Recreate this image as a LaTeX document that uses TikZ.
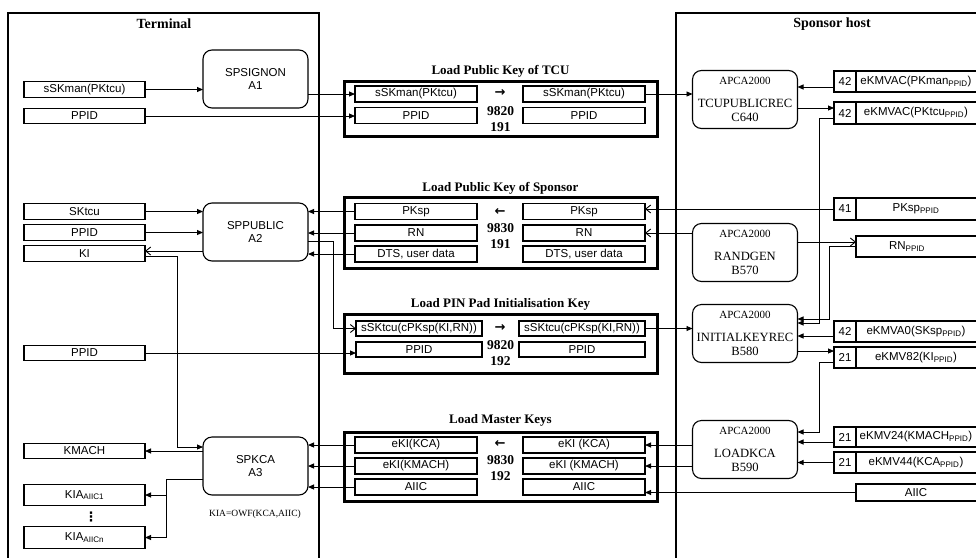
\documentclass[tikz,border=0pt]{standalone}
\usepackage{fontspec}
\setmainfont{Liberation Serif}
\newfontfamily\arial{Liberation Sans}
\newfontfamily\dejavu{DejaVu Sans}
\usetikzlibrary{arrows.meta}

\newcommand{\sbs}[1]{\textsubscript{#1}}
% text of a host data cell, set left of the cell centre
\newcommand{\rtxt}[2][10pt]{\hbox to 120pt{\hss #2\hss\hskip #1}}

\begin{document}
\begin{tikzpicture}[x=1pt,y=-1pt,
  every node/.style={inner sep=0pt, outer sep=0pt},
  wire/.style={line width=0.9pt},
  fa/.style={wire, -{Triangle[length=6pt,width=5pt]}},
  oa/.style={wire, -{Straight Barb[length=5pt,width=8pt]}},
  sansf/.style={font=\arial\fontsize{11.5}{13.5}\selectfont},
  dbox/.style={draw, line width=1.1pt, sansf, minimum width=121pt, minimum height=15.5pt},
  mbox/.style={dbox, minimum width=122pt, minimum height=16pt},
  wbox/.style={dbox, minimum width=126pt, minimum height=15pt},
  proc/.style={draw, line width=1.1pt, rounded corners=9pt, minimum width=105pt,
    minimum height=58pt, align=center},
  tproc/.style={proc, sansf},
  hproc/.style={proc, font=\fontsize{12.6}{14}\selectfont},
  grp/.style={draw, line width=3pt, minimum width=313pt},
  gtitle/.style={font=\bfseries\fontsize{13}{15}\selectfont},
  gnum/.style={font=\bfseries\fontsize{13.5}{16}\selectfont, align=center},
  gdir/.style={font=\dejavu\bfseries\fontsize{13}{14}\selectfont},
  ptitle/.style={font=\bfseries\fontsize{14}{16}\selectfont},
  numc/.style={draw, line width=1.1pt, sansf, minimum width=22pt, minimum height=21pt},
  datc/.style={draw, line width=1.1pt, sansf, minimum width=130pt, minimum height=21pt},
  panel/.style={line width=2.8pt}
]
\useasboundingbox (0,0) rectangle (976,557);
\clip (0,0) rectangle (976,557);

% ---------- the two systems ----------
\draw[panel] (8,13) rectangle (319,600);
\node[ptitle] (termT) at (164,24) {Terminal};
\draw[panel] (676,13) rectangle (1000,600);
\node[ptitle] (hostT) at (832,24) {Sponsor host};

% ---------- terminal data ----------
\node[dbox] (tS)  at (84.5,89.5) {sSKman(PKtcu)};
\node[dbox] (tP1) at (84.5,116) {PPID};
\node[dbox] (tSK) at (84.5,211.5) {SKtcu};
\node[dbox] (tP2) at (84.5,232.5) {PPID};
\node[dbox] (tKI) at (84.5,253.5) {KI};
\node[dbox] (tP3) at (84.5,353) {PPID};
\node[dbox] (tKM) at (84.5,451) {KMACH};
\node[dbox, minimum height=21.5pt] (tKIA1) at (84.5,495) {KIA\sbs{AIIC1}};
\node[font=\dejavu\bfseries\fontsize{13}{13}\selectfont] (tDots) at (91,516.5) {⋮};
\node[dbox, minimum height=21.5pt] (tKIAn) at (84.5,537.5) {KIA\sbs{AIICn}};

% ---------- terminal functions ----------
\node[tproc] (SPS) at (255.5,79) {SPSIGNON\\A1};
\node[tproc] (SPP) at (255.5,232) {SPPUBLIC\\A2};
\node[tproc] (SPK) at (255.5,466) {SPKCA\\A3};
\node[font=\fontsize{9.5}{11}\selectfont] (owf) at (255,514) {KIA=OWF(KCA,AIIC)};

% ---------- messages ----------
% Load Public Key of TCU
\node[grp, minimum height=55pt] (G1) at (500.5,108.5) {};
\node[gtitle] (G1t) at (500.5,71) {Load Public Key of TCU};
\node[mbox] (m1a) at (416,94) {sSKman(PKtcu)};
\node[mbox] (m1b) at (416,115.5) {PPID};
\node[mbox] (n1a) at (584,94) {sSKman(PKtcu)};
\node[mbox] (n1b) at (584,115.5) {PPID};
\node[gdir] (G1d) at (500,93) {→};
\node[gnum] (G1n) at (500.5,119) {9820\\191};

% Load Public Key of Sponsor
\node[grp, minimum height=71pt] (G2) at (500.5,232.5) {};
\node[gtitle] (G2t) at (500.5,188) {Load Public Key of Sponsor};
\node[mbox] (m2a) at (416,211.5) {PKsp};
\node[mbox] (m2b) at (416,233) {RN};
\node[mbox] (m2c) at (416,254) {DTS, user data};
\node[mbox] (n2a) at (584,211.5) {PKsp};
\node[mbox] (n2b) at (584,233) {RN};
\node[mbox] (n2c) at (584,254) {DTS, user data};
\node[gdir] (G2d) at (500,212) {←};
\node[gnum] (G2n) at (500.5,236) {9830\\191};

% Load PIN Pad Initialisation Key
\node[grp, minimum height=59pt] (G3) at (500.5,343.5) {};
\node[gtitle] (G3t) at (500.5,304) {Load PIN Pad Initialisation Key};
\node[wbox] (m3a) at (419,328.5) {sSKtcu(cPKsp(KI,RN))};
\node[wbox] (m3b) at (419,349.5) {PPID};
\node[wbox] (n3a) at (582,328.5) {sSKtcu(cPKsp(KI,RN))};
\node[wbox] (n3b) at (582,349.5) {PPID};
\node[gdir] (G3d) at (500,328) {→};
\node[gnum] (G3n) at (500.5,353) {9820\\192};

% Load Master Keys
\node[grp, minimum height=69pt] (G4) at (500.5,466.5) {};
\node[gtitle] (G4t) at (500.5,420) {Load Master Keys};
\node[mbox] (m4a) at (416,445) {eKI(KCA)};
\node[mbox] (m4b) at (416,466) {eKI(KMACH)};
\node[mbox] (m4c) at (416,487) {AIIC};
\node[mbox] (n4a) at (584,445) {eKI (KCA)};
\node[mbox] (n4b) at (584,466) {eKI (KMACH)};
\node[mbox] (n4c) at (584,487) {AIIC};
\node[gdir] (G4d) at (500,444) {←};
\node[gnum] (G4n) at (500.5,468.5) {9830\\192};

% ---------- host functions ----------
\node[hproc] (TPR) at (745,99.5) {{\fontsize{11}{12}\selectfont APCA2000}\\[9pt]TCUPUBLICREC\\C640};
\node[hproc] (RAN) at (745,252.5) {{\fontsize{11}{12}\selectfont APCA2000}\\[9pt]RANDGEN\\B570};
\node[hproc] (IKR) at (745,333.5) {{\fontsize{11}{12}\selectfont APCA2000}\\[9pt]INITIALKEYREC\\B580};
\node[hproc] (LKC) at (745,449.5) {{\fontsize{11}{12}\selectfont APCA2000}\\[9pt]LOADKCA\\B590};

% ---------- host key store ----------
\node[numc] (r1n) at (845,81.5) {42};
\node[datc] (r1)  at (921,81.5) {\rtxt{eKMVAC(PKman\sbs{PPID})}};
\node[numc, minimum height=22pt] (r2n) at (845,113) {42};
\node[datc, minimum height=22pt] (r2)  at (921,113) {\rtxt{eKMVAC(PKtcu\sbs{PPID})}};
\node[numc, minimum height=22pt] (r3n) at (845,209) {41};
\node[datc, minimum height=22pt] (r3)  at (921,209) {\rtxt{PKsp\sbs{PPID}}};
\node[datc] (rRN) at (921,246.5) {\rtxt[28pt]{RN\sbs{PPID}}};
\node[numc] (r4n) at (845,331.5) {42};
\node[datc] (r4)  at (921,331.5) {\rtxt{eKMVA0(SKsp\sbs{PPID})}};
\node[numc] (r5n) at (845,357.5) {21};
\node[datc] (r5)  at (921,357.5) {\rtxt{eKMV82(KI\sbs{PPID})}};
\node[numc, minimum height=20pt] (r6n) at (845,437) {21};
\node[datc, minimum height=20pt] (r6)  at (921,437) {\rtxt{eKMV24(KMACH\sbs{PPID})}};
\node[numc] (r7n) at (845,462.5) {21};
\node[datc] (r7)  at (921,462.5) {\rtxt{eKMV44(KCA\sbs{PPID})}};
\node[datc, minimum height=17pt] (rA) at (921,492.5) {\rtxt{AIIC}};

% ---------- terminal connectors ----------
\draw[fa] (tS.east) -- (tS -| SPS.west);
\draw[fa] (SPS.east |- m1a) -- (m1a.west);
\draw[fa] (tP1.east) -- (tP1 -| m1b.west);
\draw[fa] (tSK.east) -- (tSK -| SPP.west);
\draw[fa] (tP2.east) -- (tP2 -| SPP.west);
\coordinate (kiIn) at ([yshift=2.5pt]tKI.east);
\coordinate (kiOut) at ([yshift=-2.5pt]tKI.east);
\coordinate (kiDown) at (177,447);
\draw[oa] (kiIn -| SPP.west) -- (kiIn);
\draw[fa] (kiOut) -| (kiDown) -- (kiDown -| SPK.west);
\draw[fa] (m2a.west) -- (m2a -| SPP.east);
\draw[fa] (m2b.west) -- (m2b -| SPP.east);
\draw[fa] (m2c.west) -- (m2c -| SPP.east);
\coordinate (spOut) at ([yshift=-9pt]SPP.east);
\coordinate (spJog) at (333,0);
\draw[oa] (spOut) -| (spJog |- m3a) -- (m3a.west);
\draw[fa] (tP3.east) -- (tP3 -| m3b.west);
\draw[fa] (tKM -| SPK.west) -- (tKM.east);
\coordinate (kaOut) at ([yshift=-13pt]SPK.west);
\coordinate (kaJog) at (166,0);
\draw[wire] (kaOut) -| (kaJog |- tKIAn);
\draw[fa] (kaJog |- tKIA1) -- (tKIA1.east);
\draw[fa] (kaJog |- tKIAn) -- (tKIAn.east);
\draw[fa] (m4a.west) -- (m4a -| SPK.east);
\draw[fa] (m4b.west) -- (m4b -| SPK.east);
\draw[fa] (m4c.west) -- (m4c -| SPK.east);

% ---------- host connectors ----------
\draw[fa] (n1a.east) -- (n1a -| TPR.west);
\coordinate (r1in) at ([yshift=-5.5pt]r1n.west);
\draw[fa] (r1in) -- (r1in -| TPR.east);
\coordinate (r2in) at ([yshift=5pt]r2n.west);
\draw[fa] (r2in -| TPR.east) -- (r2in);
\coordinate (r2out) at ([yshift=-5pt]r2n.west);
\coordinate (jogA) at (819,0);
\coordinate (ikA) at ([yshift=10.5pt]IKR.east);
\draw[fa] (r2out) -| (jogA |- ikA) -- (ikA);
\draw[oa] (r3n.west) -- (r3n -| n2a.east);
\draw[oa] (RAN.west |- n2b) -- (n2b.east);
\coordinate (rnIn) at ([yshift=4.5pt]rRN.west);
\draw[oa] (rnIn -| RAN.east) -- (rnIn);
\coordinate (jogB) at (829.5,0);
\coordinate (ikB) at ([yshift=14.5pt]IKR.east);
\draw[fa] (rRN.west) -| (jogB |- ikB) -- (ikB);
\draw[fa] (n3a.east) -- (n3a -| IKR.west);
\coordinate (r4in) at ([yshift=-4.5pt]r4n.west);
\draw[fa] (r4in) -- (r4in -| IKR.east);
\coordinate (r5in) at ([yshift=6.5pt]r5n.west);
\draw[fa] (r5in -| IKR.east) -- (r5in);
\coordinate (r5out) at ([yshift=-4.5pt]r5n.west);
\coordinate (lkA) at ([yshift=17.5pt]LKC.east);
\draw[fa] (r5out) -| (jogA |- lkA) -- (lkA);
\coordinate (r6in) at ([yshift=-5pt]r6n.west);
\draw[fa] (r6in) -- (r6in -| LKC.east);
\draw[fa] (r7n.west) -- (r7n -| LKC.east);
\draw[fa] (rA.west) -- (rA -| n4c.east);
\draw[fa] (LKC.west |- n4a) -- (n4a.east);
\draw[fa] (LKC.west |- n4b) -- (n4b.east);
\end{tikzpicture}
\end{document}
